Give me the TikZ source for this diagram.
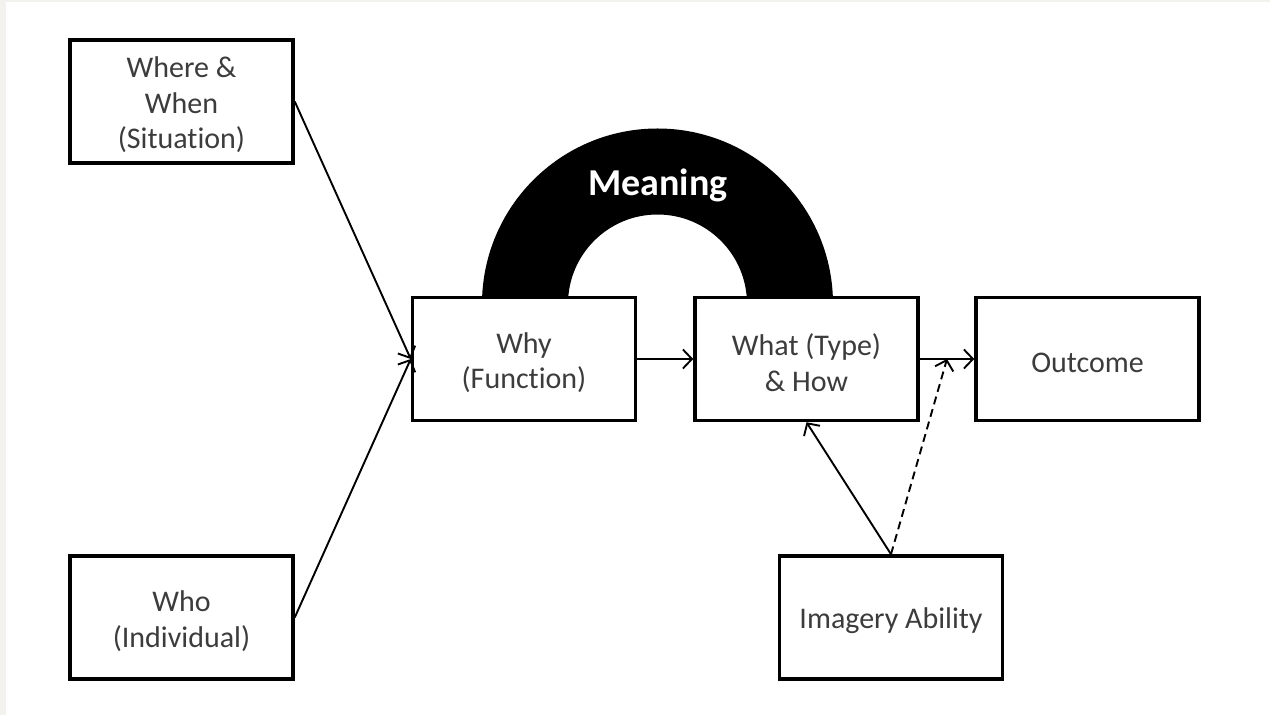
\documentclass[tikz,border=0pt]{standalone}
\usepackage{fontspec}
\setmainfont{Carlito}[Ligatures=NoCommon]
\usetikzlibrary{arrows.meta,calc}
\definecolor{txtgray}{HTML}{3C3C3C}
\definecolor{framegray}{HTML}{F3F2EE}
\begin{document}
\begin{tikzpicture}[x=1pt,y=1pt,
    box/.style={draw=black,line width=3.5pt,fill=white,minimum width=223pt,minimum height=123pt},
    txt/.style={align=center,text=txtgray,font=\fontsize{30}{35.5}\selectfont,yshift=-3.5pt},
    arr/.style={line width=1.9pt,-{Straight Barb[length=9pt,width=19pt,line width=1.9pt]}}]
    \fill[framegray] (0,0) rectangle (1270,715);
    \fill[white] (6,0) rectangle (1270,713);
    \useasboundingbox (0,0) rectangle (1270,715);
    \fill[black] (482,411) arc[radius=175.5, start angle=180, end angle=0]
        -- (747,411) arc[radius=89.5, start angle=0, end angle=180] -- cycle;
    \node[text=white,font=\fontsize{38}{44}\selectfont\bfseries] (meaning) at (658,530) {Meaning};
    \node[box,label={[txt]center:{Where \&\\When\\(Situation)}}] (where) at (181.5,613.5) {};
    \node[box,label={[txt]center:{Who\\(Individual)}}] (who) at (181.5,97.5) {};
    \node[box,label={[txt]center:{Why\\(Function)}}] (why) at (524,356) {};
    \node[box,label={[txt]center:{What (Type)\\\& How}}] (what) at (806.5,356) {};
    \node[box,label={[txt]center:{Outcome}}] (outcome) at (1087.5,356) {};
    \node[box,label={[txt]center:{Imagery Ability}}] (imagery) at (891,97.5) {};
    \coordinate (mid) at ($(what.east)!0.5!(outcome.west)$);
    \draw[arr] (where.east) -- (why.west);
    \draw[arr] (who.east) -- (why.west);
    \draw[arr] (why.east) -- (what.west);
    \draw[arr] (what.east) -- (outcome.west);
    \draw[arr] (imagery.north) -- (what.south);
    \draw[arr,dash pattern=on 8pt off 5pt] (imagery.north) -- (mid);
\end{tikzpicture}
\end{document}
